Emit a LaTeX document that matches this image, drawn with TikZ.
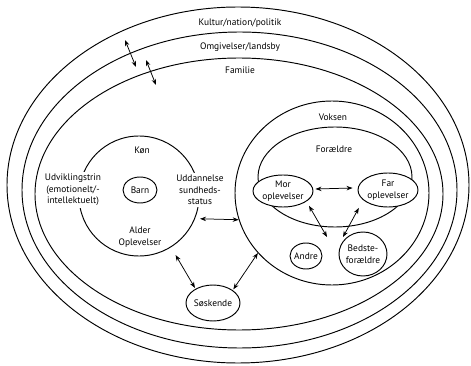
\documentclass[tikz,border=0pt]{standalone}
\usepackage{fontspec}
\setmainfont{PT Sans}
\usetikzlibrary{arrows.meta,shapes.geometric}

\begin{document}
\begin{tikzpicture}[x=1pt,y=-1pt,line width=0.95pt,
		every node/.style={font=\fontsize{9.4}{11.5}\selectfont,align=center,inner sep=1pt},
		ring/.style={draw,ellipse,inner sep=0pt},
		blank/.style={fill=white,inner sep=2pt},
		twoway/.style={{Stealth[length=6pt,width=4.5pt]}-{Stealth[length=6pt,width=4.5pt]},line width=0.75pt}]
		%%%%% START %%%%%
		\useasboundingbox (0,0) rectangle (471,366);
		
		% outer rings
		\draw (238,185) ellipse [x radius=231pt, y radius=178pt];
		\draw (239.5,190) ellipse [x radius=217.5pt, y radius=158pt];
		\draw (239,194) ellipse [x radius=204pt, y radius=136pt];
		
		\node (kultur) at (240,23) {Kultur/nation/politik};
		\node (omgiv) at (240,47) {Omgivelser/landsby};
		\node (familie) at (240,70) {Familie};
		
		% barn
		\node[draw,circle,minimum size=120pt,inner sep=0pt] (kon) at (139,196) {};
		\node (konlbl) at (142,150) {Køn};
		\node[blank] (udvikling) at (73,190) {Udviklingstrin\\(emotionelt/-\\intellektuelt)};
		\node[blank] (uddannelse) at (200,190) {Uddannelse\\sundheds-\\status};
		\node (alder) at (140,237) {Alder\\Oplevelser};
		\node[ring,minimum width=34pt,minimum height=26pt] (barn) at (140,190) {};
		\node (barnlbl) at (barn) {Barn};
		
		\node[ring,minimum width=54pt,minimum height=36pt] (soskende) at (213,303) {};
		\node (soskendelbl) at (soskende) {Søskende};
		
		% voksen
		\node[ring,minimum width=194pt,minimum height=184pt] (voksen) at (332,193) {};
		\node (voksenlbl) at (333,117) {Voksen};
		\node[ring,minimum width=154pt,minimum height=100pt] (foraeldre) at (335,177) {};
		\node (foraeldrelbl) at (334,149) {Forældre};
		\node[ring,fill=white,minimum width=60pt,minimum height=32pt] (mor) at (283,191) {};
		\node (morlbl) at (mor) {Mor\\oplevelser};
		\node[ring,fill=white,minimum width=60pt,minimum height=34pt] (far) at (388,190) {};
		\node (farlbl) at (far) {Far\\oplevelser};
		\node[ring,minimum width=32pt,minimum height=26pt] (andre) at (306,256) {};
		\node (andrelbl) at (andre) {Andre};
		\node[ring,minimum width=48pt,minimum height=44pt] (bedste) at (363,254) {};
		\node (bedstelbl) at (bedste) {Bedste-\\forældre};
		
		% arrows
		\coordinate (kultop) at (125,40);
		\coordinate (omgbot) at (136,67);
		\coordinate (omgtop) at (146,60);
		\coordinate (fambot) at (156,85);
		\coordinate (morend) at (327,237);
		\coordinate (farend) at (343,237);
		
		\draw[twoway] (kultop) -- (omgbot);
		\draw[twoway] (omgtop) -- (fambot);
		\draw[twoway,shorten <=5pt] (kon.-22) -- (voksen.-164);
		\draw[twoway,shorten <=9pt,shorten >=1pt] (kon.-58) -- (soskende.141);
		\draw[twoway,shorten >=1pt] (voksen.-141) -- (soskende.33);
		\draw[twoway] ([shift={(2,-2)}]mor.east) -- ([shift={(-5,-2)}]far.west);
		\draw[twoway,shorten <=5pt] (mor.-24) -- (morend);
		\draw[twoway,shorten <=9pt] (far.-158) -- (farend);
		
		%%%%% END %%%%%
	\end{tikzpicture}
\end{document}
